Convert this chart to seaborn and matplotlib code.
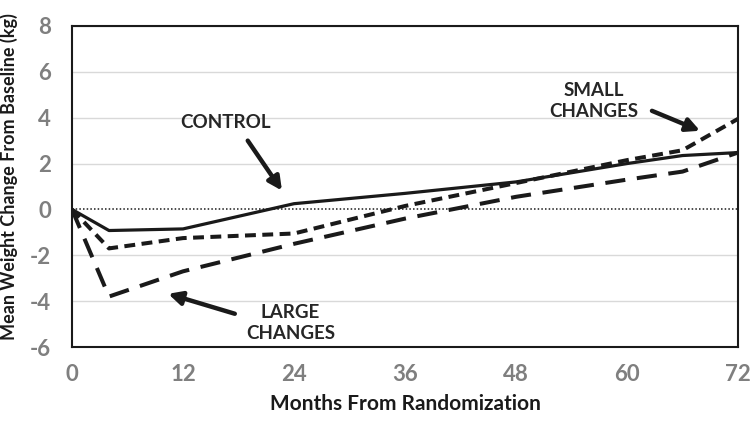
import pandas as pd
import matplotlib
matplotlib.use("Agg")
import matplotlib.pyplot as plt
import seaborn as sns

# values
months = [0, 4, 12, 24, 36, 48, 60, 66, 72]
control = [0, -0.92, -0.85, 0.25, 0.70, 1.20, 2.00, 2.35, 2.48]
small_changes = [0, -1.70, -1.25, -1.05, 0.15, 1.15, 2.15, 2.58, 3.95]
large_changes = [0, -3.80, -2.70, -1.50, -0.40, 0.55, 1.30, 1.65, 2.48]

x_ticks = [0, 12, 24, 36, 48, 60, 72]
y_ticks = [-6, -4, -2, 0, 2, 4, 6, 8]

sns.set_theme(style="white")
plt.rcParams['font.family'] = ['Lato', 'DejaVu Sans']
plt.rcParams['axes.unicode_minus'] = False

df = pd.DataFrame({'month': months * 3,
                   'change': control + small_changes + large_changes,
                   'group': ['CONTROL'] * len(months) + ['SMALL'] * len(months) + ['LARGE'] * len(months)})

fig = plt.figure(figsize=(7.5, 4.26), dpi=100)
ax = fig.add_axes([72/750, 1-347/426, 666/750, 321/426])

for y in y_ticks:
    if y != 0:
        ax.axhline(y, color='#d9d9d9', lw=1, zorder=0)
ax.axhline(0, color='k', lw=1.1, linestyle=(0, (1, 1.4)), zorder=1)

styles = {'CONTROL': dict(lw=2.3, linestyle='-'),
          'SMALL': dict(lw=2.9, linestyle=(0, (2.7, 1.6))),
          'LARGE': dict(lw=2.9, linestyle=(0, (5.0, 2.9)))}
for name, st in styles.items():
    sub = df[df['group'] == name]
    sns.lineplot(data=sub, x='month', y='change', color='k', ax=ax, **st, zorder=3)

ax.set_xlim(0, 72)
ax.set_ylim(-6, 8)
ax.set_xticks(x_ticks)
ax.set_yticks(y_ticks)
ax.tick_params(axis='both', length=0, labelsize=16, labelcolor='#7f7f7f')
ax.tick_params(axis='x', pad=12)
ax.tick_params(axis='y', pad=15)
for lab in ax.get_xticklabels() + ax.get_yticklabels():
    lab.set_fontweight('bold')
for sp in ax.spines.values():
    sp.set_visible(True)
    sp.set_color('k')
    sp.set_linewidth(1.5)

ax.set_xlabel('Months From Randomization', fontsize=15, fontweight='bold', color='k')
ax.xaxis.set_label_coords(0.5, -0.145)
ax.set_ylabel('Mean Weight Change From Baseline (kg)', fontsize=13, fontweight='bold', color='k')
ax.yaxis.set_label_coords(-0.081, 0.53)

arrow = dict(arrowstyle='-|>', color='k', lw=3.2, mutation_scale=20, shrinkA=0, shrinkB=0)
ax.text(16.6, 3.78, 'CONTROL', ha='center', va='center', fontsize=13.5, fontweight='bold')
ax.annotate('', xy=(22.7, 0.82), xytext=(19.0, 3.0), arrowprops=arrow)
ax.text(56.4, 4.74, 'SMALL\nCHANGES', ha='center', va='center', fontsize=13.5,
        fontweight='bold', linespacing=1.3)
ax.annotate('', xy=(67.9, 3.43), xytext=(62.7, 4.3), arrowprops=arrow)
ax.text(23.6, -4.94, 'LARGE\nCHANGES', ha='center', va='center', fontsize=13.5,
        fontweight='bold', linespacing=1.3)
ax.annotate('', xy=(10.4, -3.68), xytext=(17.6, -4.55), arrowprops=arrow)

fig.savefig('out.png', dpi=100)
